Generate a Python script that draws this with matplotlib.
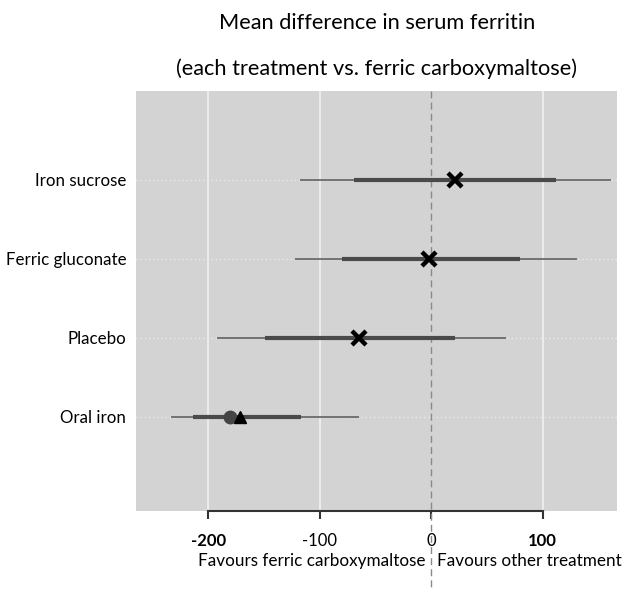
# Forest plot: mean difference in serum ferritin vs. ferric carboxymaltose

import matplotlib
matplotlib.use("Agg")
import matplotlib.pyplot as plt
import matplotlib.transforms as mtransforms

plt.rcParams.update({
    "font.family": ["Lato", "DejaVu Sans"],
    "font.size": 12,
})

# data
treatments = ["Iron sucrose", "Ferric gluconate", "Placebo", "Oral iron"]
mean_diff = [21, -2, -65, -181]
ci95_lo = [-118, -122, -192, -234]
ci95_hi = [161, 131, 67, -65]
ci50_lo = [-69, -80, -149, -214]
ci50_hi = [112, 80, 21, -117]
oral_triangle = -172
tick_vals = [-200, -100, 0, 100]
tick_labels = ["-200", "-100", "0", "100"]
tick_bold = [True, False, False, True]

fig = plt.figure(figsize=(6.26, 5.89), dpi=100)
ax = fig.add_axes([136/626, 1-511/589, 481/626, 420/589])
ax.set_facecolor("#d3d3d3")

ys = list(range(len(treatments), 0, -1))

# grid
for v in [-200, -100, 100]:
    ax.axvline(v, color="#ececec", lw=1.4, zorder=1)
for y in ys:
    ax.axhline(y, color="#ececec", lw=1, ls=(0, (1, 2)), zorder=1)

# zero line, running down through the bottom labels
trans = mtransforms.blended_transform_factory(ax.transData, ax.transAxes)
ax.plot([0, 0], [1, -0.2], color="#8a8a8a", lw=1, ls=(0, (5, 3)),
        transform=trans, clip_on=False, zorder=2)

for i, y in enumerate(ys):
    ax.plot([ci95_lo[i], ci95_hi[i]], [y, y], color="#6a6a6a", lw=1.3,
            solid_capstyle="butt", zorder=3)
    ax.plot([ci50_lo[i], ci50_hi[i]], [y, y], color="#4a4a4a", lw=3,
            solid_capstyle="butt", zorder=4)
    if treatments[i] == "Oral iron":
        ax.plot(mean_diff[i], y, "o", color="#444444", ms=9, zorder=5)
        ax.plot(oral_triangle, y, "^", color="black", ms=9, zorder=6)
    else:
        ax.plot(mean_diff[i], y, "x", color="black", ms=10, mew=3.2, zorder=5)

ax.set_xlim(-265, 166.7)
ax.set_ylim(-0.19, 5.12)

ax.set_yticks(ys)
ax.set_yticklabels(treatments)
ax.tick_params(axis="y", length=0, pad=7, labelsize=12.2)

ax.set_xticks(tick_vals)
ax.set_xticklabels(tick_labels)
for lab, b in zip(ax.get_xticklabels(), tick_bold):
    if b:
        lab.set_fontweight("bold")
ax.tick_params(axis="x", length=6, width=1.5, color="#333333", pad=10,
               labelsize=12)

for s in ["top", "right", "left"]:
    ax.spines[s].set_visible(False)
ax.spines["bottom"].set_bounds(-200, 100)
ax.spines["bottom"].set_color("#333333")
ax.spines["bottom"].set_linewidth(1.5)

fig.text(0.6017, 1-23/589, "Mean difference in serum ferritin",
         ha="center", va="center", fontsize=15.7)
fig.text(0.6017, 1-69/589, "(each treatment vs. ferric carboxymaltose)",
         ha="center", va="center", fontsize=15.7)

ax.text(-5, -0.82, "Favours ferric carboxymaltose", ha="right", va="center",
        fontsize=12.3)
ax.text(5, -0.82, "Favours other treatment", ha="left", va="center",
        fontsize=12.3)

fig.savefig("out.png", dpi=100)
